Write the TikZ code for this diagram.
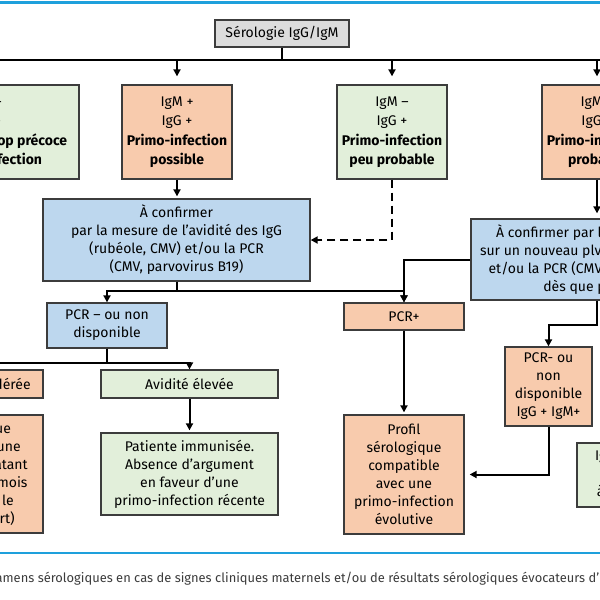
\documentclass[tikz,border=0pt]{standalone}
\usepackage{fontspec}
\setmainfont{Fira Sans}
\usetikzlibrary{arrows.meta}
\definecolor{peach}{RGB}{248,203,173}
\definecolor{sage}{RGB}{226,239,218}
\definecolor{sky}{RGB}{189,215,238}
\definecolor{greybox}{RGB}{220,220,220}
\definecolor{rulecol}{RGB}{30,160,220}
\definecolor{edgecol}{RGB}{60,60,60}
\definecolor{captcol}{RGB}{60,60,60}
\tikzset{
  box/.style={draw=edgecol,line width=1.3pt,align=center,inner sep=1pt,
    font=\fontsize{14}{18}\selectfont},
  peachbox/.style={box,fill=peach},
  sagebox/.style={box,fill=sage},
  skybox/.style={box,fill=sky},
  tall/.style={minimum width=110,minimum height=94,font=\fontsize{14}{19.5}\selectfont},
  link/.style={line width=2pt},
  arr/.style={link,-{Triangle[length=7pt,width=7pt]}},
}
\begin{document}
\begin{tikzpicture}[x=1pt,y=-1pt]
  \useasboundingbox (0,0) rectangle (600,600);
  \fill[white] (0,0) rectangle (600,600);
  \clip (0,0) rectangle (600,600);
  % frame rules and caption
  \draw[rulecol,line width=3pt] (-10,2) -- (610,2);
  \draw[rulecol,line width=2pt] (-10,552.5) -- (610,552.5);
  \node[anchor=base west,inner sep=0pt,text=captcol,font=\fontsize{12.9}{14}\selectfont] (capt) at (-17.5,582)
    {Examens sérologiques en cas de signes cliniques maternels et/ou de résultats sérologiques évocateurs d'une primo-infection};

  % first level
  \node[box,fill=greybox,minimum width=134,minimum height=27] (sero) at (282,33.5) {Sérologie IgG/IgM};
  \node[sagebox,tall,minimum width=188] (neg) at (-15,132)
    {IgM --\\IgG --\\\textbf{Prélèvement trop précoce}\\\textbf{ou pas d'infection}};
  \node[peachbox,tall] (poss) at (177,132)
    {IgM +\\IgG +\\\textbf{Primo-infection}\\\textbf{possible}};
  \node[sagebox,tall] (peu) at (392,132)
    {IgM --\\IgG +\\\textbf{Primo-infection}\\\textbf{peu probable}};
  \node[peachbox,tall] (prob) at (597,132)
    {IgM +\\IgG --\\\textbf{Primo-infection}\\\textbf{probable}};
  \coordinate (busL) at (-200,60);
  \coordinate (busR) at (800,60);
  \draw[link] (sero) -- (sero |- busL);
  \draw[link] (busL) -- (busR);
  \foreach \n in {neg,poss,peu,prob}
    \draw[arr,shorten >=8pt] (\n |- busL) -- (\n.north);

  % confirmation
  \node[skybox,minimum width=267,minimum height=82] (confA) at (176.5,240)
    {À confirmer\\par la mesure de l'avidité des IgG\\(rubéole, CMV) et/ou la PCR\\(CMV, parvovirus B19)};
  \node[skybox,minimum width=252,minimum height=81] (confB) at (597,259.5)
    {À confirmer par l'avidité des IgG\\sur un nouveau plvt à trois semaines\\et/ou la PCR (CMV, parvovirus B19)\\dès que possible};
  \draw[arr,shorten >=2pt] (poss.south) -- (poss.south |- confA.north);
  \draw[arr,dashed,dash pattern=on 8pt off 5pt] (peu.south) |- (confA.east);
  \draw[arr,shorten >=5pt] (prob.south) -- (prob.south |- confB.north);

  % PCR results
  \node[skybox,minimum width=120,minimum height=45] (pcrneg) at (107,325.5) {PCR -- ou non\\disponible};
  \node[peachbox,minimum width=120,minimum height=27] (pcrpos) at (404,316.5) {PCR+};
  \node[peachbox,minimum width=87,minimum height=79] (pcrnegB) at (548.5,386.5)
    {PCR- ou\\non\\disponible\\IgG + IgM+};
  \draw[arr] (confA.south) -- ++(0,9) -| (pcrneg.north);
  \draw[arr] (confA.south) -- ++(0,9) -| (pcrpos.north);
  \draw[arr] (confB.west) -| (pcrpos.north);
  \draw[arr] (confB.south) -- ++(0,24) -| (pcrnegB.north);

  % avidity
  \node[peachbox,minimum width=188,minimum height=28] (avfaible) at (-51,384) {Avidité faible ou modérée};
  \node[sagebox,minimum width=177,minimum height=28] (aveleve) at (189.5,384) {Avidité élevée};
  \draw[arr] (pcrneg.south) -- ++(0,14) -| (avfaible.north);
  \draw[arr] (pcrneg.south) -- ++(0,14) -| (aveleve.north);

  % conclusions
  \node[peachbox,minimum width=176,minimum height=118] (recent) at (-45,474)
    {Profil sérologique\\compatible avec une\\primo-infection datant\\de moins de trois mois\\(à confirmer par le\\laboratoire expert)};
  \node[sagebox,minimum width=177,minimum height=82] (immun) at (189.5,474)
    {Patiente immunisée.\\Absence d'argument\\en faveur d'une\\primo-infection récente};
  \node[peachbox,minimum width=120,minimum height=119] (profil) at (404,474.5)
    {Profil\\sérologique\\compatible\\avec une\\primo-infection\\évolutive};
  \node[sagebox,minimum width=100,minimum height=64] (ancien) at (627,475)
    {IgG + IgM+\\stables\\à 15 jours};
  \draw[arr] (avfaible) -- (recent);
  \draw[arr,shorten >=2pt] (aveleve) -- (immun);
  \draw[arr,shorten >=2pt] (pcrpos) -- (profil);
  \draw[arr,shorten >=5pt] (pcrnegB.south) |- (profil.east);
\end{tikzpicture}
\end{document}
